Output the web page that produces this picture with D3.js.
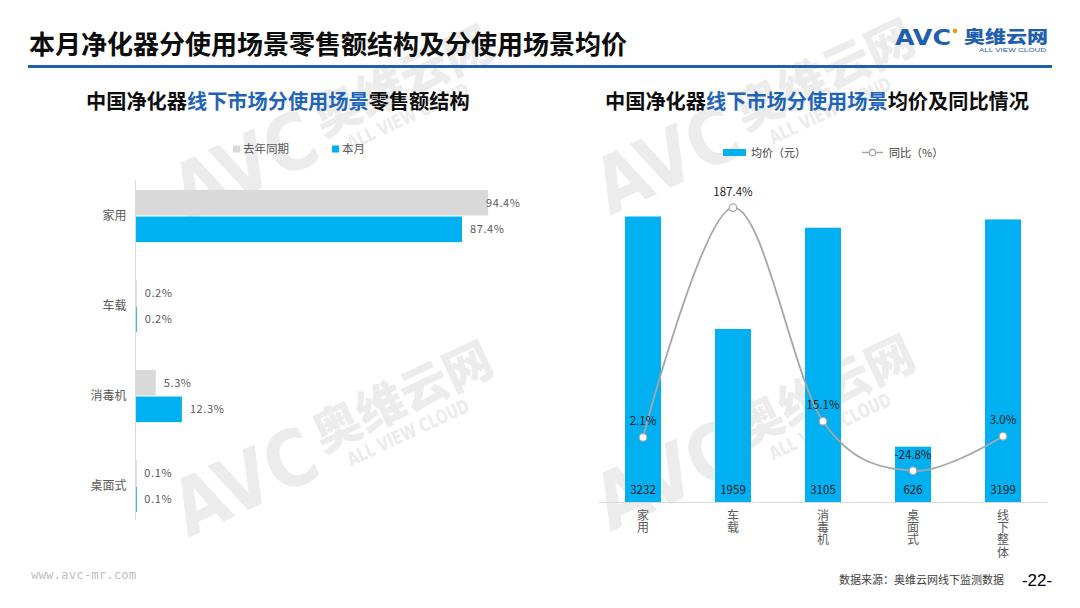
<!DOCTYPE html>
<html>
<head>
<meta charset="utf-8">
<script src="https://cdn.jsdelivr.net/npm/d3@7"></script>
<style>
  html, body { margin: 0; padding: 0; background: #fff; }
  svg { display: block; font-family: "Noto Sans CJK SC", "Microsoft YaHei", sans-serif; }
</style>
</head>
<body>
<svg id="chart" width="1080" height="608"></svg>
<script>
// ---------- data ----------
const leftCategories = ["家用", "车载", "消毒机", "桌面式"];
const leftSeries = ["去年同期", "本月"];
const lastYearShare = [94.4, 0.2, 5.3, 0.1];
const thisMonthShare = [87.4, 0.2, 12.3, 0.1];

const rightCategories = ["家用", "车载", "消毒机", "桌面式", "线下整体"];
const avgPrice = [3232, 1959, 3105, 626, 3199];
const yoyPct = [2.1, 187.4, 15.1, -24.8, 3.0];

const mainTitle = "本月净化器分使用场景零售额结构及分使用场景均价";
const leftTitleParts = ["中国净化器", "线下市场分使用场景", "零售额结构"];
const rightTitleParts = ["中国净化器", "线下市场分使用场景", "均价及同比情况"];
const rightLegend = ["均价（元）", "同比（%）"];
const sourceText = "数据来源：奥维云网线下监测数据";
const pageNo = "-22-";
const siteText = "www.avc-mr.com";

// ---------- styles ----------
const BLUE = "#00B0F0", GREY = "#D9D9D9", LINE = "#A6A6A6", TITLE_BLUE = "#1F64B9";
const svg = d3.select("#chart");

// ---------- watermarks ----------
function watermark(x, y) {
  const g = svg.append("g").attr("transform", `translate(${x},${y}) rotate(-25)`)
    .attr("fill", "#ECECEC");
  g.append("text").text("AVC").attr("x", 0).attr("y", 0)
    .attr("font-family", "DejaVu Sans, sans-serif")
    .attr("font-size", 78).attr("font-weight", "bold")
    .attr("textLength", 150).attr("lengthAdjust", "spacingAndGlyphs");
  g.append("text").text("奥维云网").attr("x", 158).attr("y", -20)
    .attr("font-size", 48).attr("font-weight", "900");
  g.append("text").text("ALL VIEW CLOUD").attr("x", 178).attr("y", 4)
    .attr("font-family", "DejaVu Sans, sans-serif")
    .attr("font-size", 19).attr("font-weight", "bold")
    .attr("textLength", 132).attr("lengthAdjust", "spacingAndGlyphs");
}
watermark(188, 222);
watermark(188, 538);
watermark(610, 216);
watermark(610, 532);

// ---------- header ----------
svg.append("text").text(mainTitle).attr("x", 29).attr("y", 54)
  .attr("font-size", 26).attr("font-weight", "bold").attr("fill", "#0D0D0D");
svg.append("rect").attr("x", 28).attr("y", 65).attr("width", 1024).attr("height", 3)
  .attr("fill", "#1F5FAD");

// logo
const logo = svg.append("g");
logo.append("text").text("AVC").attr("x", 895).attr("y", 45)
  .attr("font-family", "DejaVu Sans, sans-serif")
  .attr("font-size", 22).attr("font-weight", "bold")
  .attr("fill", "#1F5FAD").attr("textLength", 56).attr("lengthAdjust", "spacingAndGlyphs");
logo.append("circle").attr("cx", 955).attr("cy", 31).attr("r", 2.3).attr("fill", "#F39800");
logo.append("text").text("奥维云网").attr("x", 964).attr("y", 43)
  .attr("font-size", 17).attr("font-weight", "900").attr("fill", "#1F5FAD")
  .attr("textLength", 84).attr("lengthAdjust", "spacingAndGlyphs");
logo.append("text").text("ALL VIEW CLOUD").attr("x", 979).attr("y", 52)
  .attr("font-family", "Liberation Sans, Arial, sans-serif")
  .attr("font-size", 6).attr("fill", "#1F5FAD")
  .attr("textLength", 67).attr("lengthAdjust", "spacingAndGlyphs");

// subtitles
function subtitle(parts, x) {
  const t = svg.append("text").attr("x", x).attr("y", 109)
    .attr("font-size", 20.2).attr("font-weight", "bold");
  parts.forEach((p, i) => t.append("tspan").text(p).attr("fill", i === 1 ? TITLE_BLUE : "#0D0D0D"));
}
subtitle(leftTitleParts, 86);
subtitle(rightTitleParts, 605);

// ---------- left chart: horizontal grouped bars ----------
const yL = d3.scaleBand().domain(leftCategories).range([171, 531])
  .paddingInner(0.42).paddingOuter(0.21);
const ySub = d3.scaleBand().domain(leftSeries).range([0, yL.bandwidth()]).paddingInner(0.04);
const xL = d3.scaleLinear().domain([0, 100]).range([136, 509]);

// legend
const legL = svg.append("g");
[[leftSeries[0], GREY, 233, 243], [leftSeries[1], BLUE, 332, 342]].forEach(([name, c, rx, tx]) => {
  legL.append("rect").attr("x", rx).attr("y", 145.5).attr("width", 7).attr("height", 7).attr("fill", c);
  legL.append("text").text(name).attr("x", tx).attr("y", 153).attr("font-size", 11.5).attr("fill", "#595959");
});

const leftRows = leftCategories.map((c, i) => ({ cat: c, vals: [lastYearShare[i], thisMonthShare[i]] }));
const gL = svg.append("g");
leftRows.forEach(row => {
  row.vals.forEach((v, si) => {
    const s = leftSeries[si];
    const y0 = yL(row.cat) + ySub(s);
    gL.append("rect").attr("x", xL(0)).attr("y", y0)
      .attr("width", Math.max(0.8, xL(v) - xL(0))).attr("height", ySub.bandwidth())
      .attr("fill", si === 0 ? GREY : BLUE);
    gL.append("text").text(v.toFixed(1) + "%")
      .attr("x", Math.min(xL(v) + 8, 486)).attr("y", y0 + ySub.bandwidth() / 2 + 4)
      .attr("font-size", 11).attr("fill", "#595959").attr("letter-spacing", 0.6);
  });
});
// category axis
const axL = svg.append("g").attr("transform", `translate(${xL(0) - 0.5},0)`)
  .call(d3.axisLeft(yL).tickSize(0).tickPadding(9));
axL.select(".domain").attr("stroke", "#D9D9D9").attr("d", "M0,180V520");
axL.selectAll("text").attr("font-size", 12).attr("fill", "#595959")
  .attr("font-family", "Noto Sans CJK SC, sans-serif");

// ---------- right chart: bars + smooth line ----------
const xR = d3.scaleBand().domain(rightCategories).range([598, 1048])
  .paddingInner(0.6).paddingOuter(0.3);
const yR = d3.scaleLinear().domain([0, 3600]).range([502, 184]);
const yR2 = d3.scaleLinear().domain([-50, 200]).range([502, 192]);

// legend
const legR = svg.append("g");
legR.append("rect").attr("x", 723).attr("y", 149).attr("width", 23).attr("height", 7).attr("fill", BLUE);
legR.append("text").text(rightLegend[0]).attr("x", 751).attr("y", 156.5).attr("font-size", 11).attr("fill", "#404040");
legR.append("line").attr("x1", 862).attr("x2", 883).attr("y1", 152.5).attr("y2", 152.5)
  .attr("stroke", LINE).attr("stroke-width", 1.5);
legR.append("circle").attr("cx", 872.5).attr("cy", 152.5).attr("r", 3.2)
  .attr("fill", "#fff").attr("stroke", LINE).attr("stroke-width", 1.2);
legR.append("text").text(rightLegend[1]).attr("x", 889).attr("y", 156.5).attr("font-size", 11).attr("fill", "#404040");

const rightRows = rightCategories.map((c, i) => ({ cat: c, price: avgPrice[i], yoy: yoyPct[i] }));
const gR = svg.append("g");
gR.selectAll("rect.bar").data(rightRows).join("rect").attr("class", "bar")
  .attr("x", d => xR(d.cat)).attr("width", xR.bandwidth())
  .attr("y", d => yR(d.price)).attr("height", d => yR(0) - yR(d.price))
  .attr("fill", BLUE);
gR.selectAll("text.val").data(rightRows).join("text").attr("class", "val")
  .text(d => d.price)
  .attr("x", d => xR(d.cat) + xR.bandwidth() / 2).attr("y", 493.5)
  .attr("text-anchor", "middle").attr("font-size", 11.5).attr("fill", "#1A1A1A");

// x axis
const axR = svg.append("g").attr("transform", `translate(0,${yR(0) + 0.5})`)
  .call(d3.axisBottom(xR).tickSize(0).tickFormat(""));
axR.select(".domain").attr("stroke", "#D9D9D9").attr("d", "M598,0H1047");
svg.append("g").selectAll("text.xl").data(rightRows).join("text").attr("class", "xl")
  .text(d => d.cat)
  .attr("x", d => xR(d.cat) + xR.bandwidth() / 2).attr("y", 509)
  .attr("writing-mode", "vertical-rl").attr("text-anchor", "start")
  .attr("letter-spacing", 0.4)
  .attr("font-size", 12).attr("fill", "#595959");

// line
const cx = d => xR(d.cat) + xR.bandwidth() / 2;
const line = d3.line().x(cx).y(d => yR2(d.yoy)).curve(d3.curveCardinal.tension(0));
gR.append("path").datum(rightRows).attr("d", line)
  .attr("fill", "none").attr("stroke", LINE).attr("stroke-width", 1.8);
gR.selectAll("circle.pt").data(rightRows).join("circle").attr("class", "pt")
  .attr("cx", cx).attr("cy", d => yR2(d.yoy)).attr("r", 3.8)
  .attr("fill", "#fff").attr("stroke", LINE).attr("stroke-width", 1.2);
gR.selectAll("text.yoy").data(rightRows).join("text").attr("class", "yoy")
  .text(d => d.yoy.toFixed(1) + "%")
  .attr("x", cx).attr("y", d => yR2(d.yoy) - 12)
  .attr("text-anchor", "middle").attr("font-size", 11.5).attr("fill", "#1A1A1A");

// ---------- footer ----------
svg.append("text").text(siteText).attr("x", 31).attr("y", 579)
  .attr("font-family", "DejaVu Sans Mono, monospace").attr("font-size", 12.5).attr("fill", "#BFBFBF");
svg.append("text").text(sourceText).attr("x", 1004).attr("y", 584)
  .attr("text-anchor", "end").attr("font-size", 11).attr("fill", "#404040");
svg.append("text").text(pageNo).attr("x", 1037).attr("y", 586)
  .attr("text-anchor", "middle").attr("font-family", "Liberation Sans, Arial, sans-serif")
  .attr("font-size", 17).attr("fill", "#000");
</script>
</body>
</html>
